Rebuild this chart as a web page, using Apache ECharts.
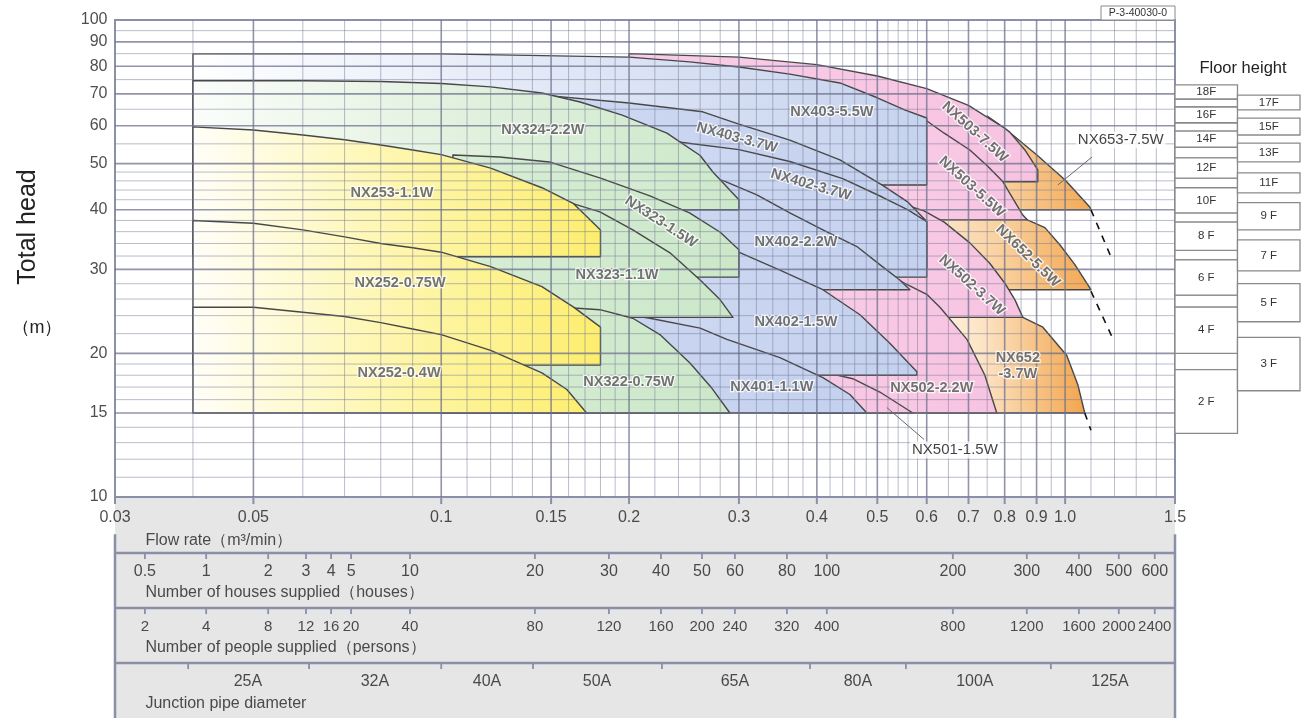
<!DOCTYPE html>
<html><head><meta charset="utf-8">
<script src="https://cdn.jsdelivr.net/npm/echarts@6/dist/echarts.min.js"></script>
<style>html,body{margin:0;padding:0;background:#fff}#chart{width:1309px;height:718px}</style>
</head><body><div id="chart"></div>
<script>
// ---------------- DATA ----------------
const flowTicks = [0.03,0.05,0.1,0.15,0.2,0.3,0.4,0.5,0.6,0.7,0.8,0.9,1.0,1.5];
const flowTickText = ['0.03','0.05','0.1','0.15','0.2','0.3','0.4','0.5','0.6','0.7','0.8','0.9','1.0','1.5'];
const headTicks = [100,90,80,70,60,50,40,30,20,15,10];
const flowGridMajor = [0.05,0.1,0.15,0.2,0.3,0.4,0.5,0.6,0.7,0.8,0.9,1.0];
const flowGridMinor = [0.04,0.06,0.07,0.08,0.09,0.11,0.12,0.13,0.14,0.16,0.17,0.18,0.19,0.22,0.24,0.26,0.28,0.32,0.34,0.36,0.38,0.42,0.44,0.46,0.48,0.52,0.54,0.56,0.58,0.65,0.75,0.85,0.95,1.1,1.2,1.3,1.4];
const headGridMajor = [90,80,70,60,50,40,30,20,15];
const headGridMinor = [95,85,75,65,55,48,46,44,42,38,36,34,32,28,26,24,22,19,18,17,16,14,13,12,11];

// supply scales (flow position of each tick)
const supplyFlows = [0.0335,0.042,0.0528,0.0607,0.0666,0.0717,0.0891,0.1413,0.1857,0.225,0.2618,0.2956,0.3581,0.415,0.6607,0.8681,1.052,1.219,1.392];
const houseLabels = ['0.5','1','2','3','4','5','10','20','30','40','50','60','80','100','200','300','400','500','600'];
const peopleLabels = ['2','4','8','12','16','20','40','80','120','160','200','240','320','400','800','1200','1600','2000','2400'];
const pipeBoundaryFlows = [0.0393,0.0614,0.1,0.1403,0.2258,0.39,0.5556,0.9487];
const pipeSizes = ['25A','32A','40A','50A','65A','80A','100A','125A'];
const pipeLabelFlows = [0.049,0.0783,0.1184,0.1777,0.2956,0.4654,0.7166,1.18];

// pump zones [flow m3/min, head m]
const NX653_75W = [[0.75,62.9],[0.8,59.3],[0.9,52.2],[1.0,46.2],[1.096,40.5],[1.1,40],[0.75,40]];
const NX652_55W = [[0.6,39],[0.85,38.6],[0.87,38.1],[0.928,36.7],[0.9806,33.8],[1.0366,30.7],[1.1,27.2],[0.6,27.2]];
const NX652_37W = [[0.6,24.5],[0.8554,23.8],[0.921,22.7],[1.006,19.8],[1.048,17.2],[1.075,15],[0.6,15]];
const NX503_75W = [[0.2,85],[0.3,83.6],[0.4,80.6],[0.5,76.3],[0.6,71.8],[0.7,66.2],[0.8,59.3],[0.815,58.2],[0.862,53.4],[0.904,48.5],[0.904,45.8],[0.2,45.8]];
const NX503_55W = [[0.5,67],[0.5942,62],[0.64,57.9],[0.7035,53.4],[0.75,49.5],[0.795,45.8],[0.8554,39],[0.87,38.1],[0.5,38.1]];
const NX502_37W = [[0.4,50],[0.5,43.5],[0.56,40.8],[0.5942,39.8],[0.64,37.7],[0.7035,34.1],[0.757,30.9],[0.8,28.1],[0.831,25.9],[0.8554,23.8],[0.4,23.8]];
const NX502_22W = [[0.35,36],[0.45,32],[0.5433,28.4],[0.6,26.6],[0.63,25],[0.696,21.4],[0.7436,18],[0.777,15],[0.35,15]];
const NX501_15W = [[0.35,20],[0.409,18.3],[0.4567,17.7],[0.5046,16.6],[0.57,15],[0.35,15]];
const NX403_55W = [[0.04,84.9],[0.1,84.9],[0.2,83.6],[0.25,81.7],[0.3,79.7],[0.362,77],[0.4355,73.8],[0.5,68.7],[0.553,64.8],[0.6,62.3],[0.6,45.1],[0.04,45.1]];
const NX403_37W = [[0.13,70.5],[0.2,67],[0.2625,64.2],[0.3,60.5],[0.362,56],[0.4355,50.9],[0.51,45],[0.56,41.5],[0.6,37.8],[0.6,30],[0.13,30]];
const NX402_37W = [[0.24,55.5],[0.3,53.5],[0.362,50.5],[0.44,46.5],[0.51,42.5],[0.56,40],[0.6,37.8],[0.6,28.9],[0.24,28.9]];
const NX402_22W = [[0.2,50],[0.26,47.5],[0.2837,46],[0.3206,43],[0.362,39.4],[0.409,36.3],[0.4637,33.5],[0.5046,30.7],[0.5433,28.5],[0.5638,27.2],[0.2,27.2]];
const NX402_15W = [[0.2,40],[0.25,36],[0.2935,33],[0.349,29.9],[0.409,27.2],[0.469,24.1],[0.5236,21],[0.5786,18.3],[0.5786,18],[0.2,18]];
const NX401_11W = [[0.1,27],[0.145,25.8],[0.1668,25.1],[0.216,23.7],[0.26,22.6],[0.287,21.4],[0.349,19.6],[0.409,17.8],[0.4519,16.4],[0.481,15],[0.1,15]];
const NX324_22W = [[0.04,74.6],[0.06,74.6],[0.08,74.3],[0.1,73.6],[0.12,72.4],[0.145,70.3],[0.167,67.3],[0.195,63.2],[0.23,57.9],[0.26,52],[0.2725,48],[0.3,42],[0.3,40],[0.04,40]];
const NX323_15W = [[0.1044,52.1],[0.124,51.6],[0.149,50.4],[0.18,46.6],[0.216,42.8],[0.25,39.4],[0.28,35.9],[0.3,33],[0.3,28.9],[0.1044,28.9]];
const NX323_11W = [[0.1,46.5],[0.145,43.6],[0.1626,41.2],[0.1796,39.6],[0.2028,36.3],[0.2326,32.5],[0.26,28.5],[0.28,25.9],[0.2935,23.8],[0.1,23.8]];
const NX322_075W = [[0.1,26.8],[0.145,25.6],[0.163,24.9],[0.1796,24.7],[0.2028,23.7],[0.2241,21.9],[0.2504,19.1],[0.2716,16.9],[0.2902,15],[0.1,15]];
const NX253_11W = [[0.04,59.7],[0.05,58.8],[0.06,57.4],[0.07,56.1],[0.08,54.7],[0.09,53.4],[0.1,52.2],[0.12,48.9],[0.145,44.5],[0.163,41.2],[0.18,36.3],[0.18,31.9],[0.04,31.9]];
const NX252_075W = [[0.04,38],[0.05,37.5],[0.06,36.3],[0.07,35.1],[0.08,34],[0.09,33.3],[0.1,32.6],[0.12,30.4],[0.145,27.6],[0.163,25],[0.18,22.7],[0.18,18.9],[0.04,18.9]];
const NX252_04W = [[0.04,25],[0.05,25],[0.06,24.4],[0.07,23.9],[0.08,23.2],[0.09,22.5],[0.1,21.9],[0.12,20.3],[0.145,18.2],[0.159,16.8],[0.171,15],[0.04,15]];

// curve extensions (dashed)
const extension1 = [[1.1,40],[1.19,31.4]];
const extension2 = [[1.1,27],[1.19,21.6]];
const extension3 = [[1.075,15],[1.1,13.8]];

// zone names [name, flow, head]
const zoneNames = [
  ['NX253-1.1W',0.0834,43.4],['NX252-0.75W',0.0859,28.1],['NX252-0.4W',0.0856,18.2],
  ['NX324-2.2W',0.1455,58.8],['NX323-1.5W',0.225,37.7],['NX323-1.1W',0.1913,29.2],['NX322-0.75W',0.1999,17.4],
  ['NX403-5.5W',0.4228,64.2],['NX403-3.7W',0.2978,56.6],['NX402-3.7W',0.3914,45.1],['NX402-2.2W',0.3702,34.2],
  ['NX402-1.5W',0.3702,23.3],['NX401-1.1W',0.3388,17.0],['NX502-2.2W',0.6114,16.9],
  ['NX503-7.5W',0.7166,58.2],['NX503-5.5W',0.7087,44.7],['NX652-5.5W',0.8714,32.0],['NX502-3.7W',0.7087,27.8],
  ['NX652\n-3.7W',0.8397,18.8]
];
const calloutNames = [['NX653-7.5W',1.228,56.1],['NX501-1.5W',0.6658,12.55]];
const calloutLeader1 = [[0.9734,45.1],[1.104,51.6]];
const calloutLeader2 = [[0.5179,15.4],[0.5942,13.2]];

// floor height boxes [label, low head, high head]
const floorsEven = [['18F',68.3,73.1],['16F',60.9,65.7],['14F',54.1,58.5],['12F',46.6,51.4],['10F',39.4,44.5],['8 F',32.9,37.7],['6 F',26.5,31.4],['4 F',20.0,25.0],['2 F',13.6,18.5]];
const floorStrips = [['',65.7,68.3],['',58.5,60.9],['',51.4,54.1],['',44.5,46.6],['',37.7,39.4],['',31.4,32.9],['',25.0,26.5],['',18.5,20.0]];
const floorsOdd = [['17F',64.8,69.6],['15F',57.4,62.3],['13F',50.4,55.2],['11F',43.4,47.8],['9 F',36.3,41.4],['7 F',29.8,34.6],['5 F',23.3,28.0],['3 F',16.7,21.6]];

// ---------------- STYLE ----------------
const FONT = "'Liberation Sans', Arial, Helvetica, sans-serif";
const labelRotation = {'NX323-1.5W':-33,'NX403-3.7W':-15,'NX402-3.7W':-16,'NX503-7.5W':-42,'NX503-5.5W':-42,'NX652-5.5W':-44,'NX502-3.7W':-42};
const ORANGE_A = [[0,'#fbd8ad'],[1,'#f3a953']];
const ORANGE_B = [[0,'#fde8cf'],[0.4,'#fbd4a5'],[1,'#f3a852']];
const ORANGE_C = [[0,'#fff3e4'],[0.35,'#fde4c6'],[1,'#f2a54c']];
const PINK = [[0,'#f9cde6'],[1,'#f7c3e1']];
const BLUE_A = [[0,'#ffffff'],[0.5,'#e0e7f6'],[1,'#c6d3ee']];
const BLUE = [[0,'#ced9f2'],[1,'#c4d1ee']];
const GREEN_A = [[0,'#fbfdfa'],[0.5,'#e1f1de'],[1,'#cce8c9']];
const GREEN = [[0,'#d8eed5'],[1,'#cbe7c8']];
const YELLOW = [[0,'#fffef8'],[0.5,'#fef6ad'],[1,'#fdee6e']];

const tiles = [
  [NX653_75W,ORANGE_A],[NX652_55W,ORANGE_B],[NX652_37W,ORANGE_C],
  [NX503_75W,PINK],[NX503_55W,PINK],[NX502_37W,PINK],[NX502_22W,PINK],[NX501_15W,PINK],
  [NX403_55W,BLUE_A],[NX403_37W,BLUE],[NX402_37W,BLUE],[NX402_22W,BLUE],[NX402_15W,BLUE],[NX401_11W,BLUE],
  [NX324_22W,GREEN_A],[NX323_15W,GREEN],[NX323_11W,GREEN],[NX322_075W,GREEN],
  [NX253_11W,YELLOW],[NX252_075W,YELLOW],[NX252_04W,YELLOW]
];

// panel rows (axis units of the lower panel)
const ROW = {flowLabel:0.36, flowTitle:0.78, houseLabel:1.34, houseTitle:1.72, peopleLabel:2.35, peopleTitle:2.72, pipeLabel:3.33, pipeTitle:3.74};
const AXIS_GRAY = '#8b8fa7';

// ---------------- HELPERS ----------------
function segSeries(segs, style, xi, yi, z) {
  return {
    type:'custom', silent:true, xAxisIndex:xi, yAxisIndex:yi, z:z,
    data: segs, encode:{x:[0,2], y:[1,3]},
    renderItem: function (params, api) {
      const a = api.coord([api.value(0), api.value(1)]);
      const b = api.coord([api.value(2), api.value(3)]);
      return {type:'line', z2: params.dataIndex, shape:{x1:a[0],y1:a[1],x2:b[0],y2:b[1]}, style: Object.assign({}, style)};
    }
  };
}
function textSeries(items, labelStyle, xi, yi, z) {
  return {
    type:'scatter', silent:true, xAxisIndex:xi, yAxisIndex:yi, z:z, symbolSize:1,
    itemStyle:{color:'rgba(0,0,0,0)'},
    data: items,
    label: Object.assign({show:true, formatter:'{b}', fontFamily:FONT}, labelStyle)
  };
}

const series = [];

// zones
series.push({
  type:'custom', silent:true, xAxisIndex:0, yAxisIndex:0, z:2,
  data: tiles.map(t => t[0][0]),
  renderItem: function (params, api) {
    const t = tiles[params.dataIndex];
    const pts = t[0].map(p => api.coord(p));
    return {
      type:'polygon', z2: params.dataIndex,
      shape:{points: pts},
      style:{
        fill: new echarts.graphic.LinearGradient(0,0,1,0, t[1].map(s => ({offset:s[0], color:s[1]}))),
        stroke:'#474747', lineWidth:1.4, lineJoin:'round'
      }
    };
  }
});

// grid lines
series.push(segSeries(flowGridMinor.map(v => [v,10,v,100]), {stroke:'rgba(118,122,150,0.5)', lineWidth:1}, 0, 0, 3));
series.push(segSeries(flowGridMajor.map(v => [v,10,v,100]), {stroke:'rgba(110,114,142,0.75)', lineWidth:1.6}, 0, 0, 3));
series.push(segSeries(headGridMinor.map(v => [0.03,v,1.5,v]), {stroke:'rgba(118,122,150,0.5)', lineWidth:1}, 0, 0, 3));
series.push(segSeries(headGridMajor.map(v => [0.03,v,1.5,v]), {stroke:'rgba(110,114,142,0.75)', lineWidth:1.6}, 0, 0, 3));

// dashed extensions
[extension1, extension2, extension3].forEach(d => {
  series.push({type:'line', silent:true, xAxisIndex:0, yAxisIndex:0, z:5, data:d, symbol:'none',
    lineStyle:{color:'#111', width:1.6, type:[7,7]}});
});
// callout leaders
[calloutLeader1, calloutLeader2].forEach(d => {
  series.push({type:'line', silent:true, xAxisIndex:0, yAxisIndex:0, z:5, data:d, symbol:'none',
    lineStyle:{color:'#6a6a6a', width:1}});
});

// zone names
series.push(textSeries(zoneNames.map(r => ({name:r[0], value:[r[1], r[2]], label:{rotate: labelRotation[r[0]] || 0}})),
  {position:'inside', fontSize:14.5, fontWeight:'bold', color:'#505050', textBorderColor:'#ffffff', textBorderWidth:2.5, lineHeight:16}, 0, 0, 8));
// callout names
series.push(textSeries(calloutNames.map(r => ({name:r[0], value:[r[1], r[2]]})),
  {position:'inside', fontSize:15, color:'#111', backgroundColor:'#ffffff', padding:[1,2]}, 0, 0, 8));

// head tick labels
series.push(textSeries(headTicks.map(v => ({name:String(v), value:[0.03, v]})),
  {position:'left', distance:7, fontSize:16, color:'#222'}, 0, 0, 8));

// ---- lower panel ----
series.push(segSeries([[0.03,1,1.5,1],[0.03,2,1.5,2],[0.03,3,1.5,3],[0.03,0.66,0.03,4],[1.5,0.66,1.5,4]],
  {stroke:AXIS_GRAY, lineWidth:2.5}, 1, 1, 4));
series.push(segSeries(flowTicks.map(v => [v,0,v,0.11]), {stroke:AXIS_GRAY, lineWidth:2}, 1, 1, 4));
series.push(segSeries(supplyFlows.map(v => [v,1,v,1.11]), {stroke:AXIS_GRAY, lineWidth:1.8}, 1, 1, 4));
series.push(segSeries(supplyFlows.map(v => [v,2,v,2.11]), {stroke:AXIS_GRAY, lineWidth:1.8}, 1, 1, 4));
series.push(segSeries(pipeBoundaryFlows.map(v => [v,3,v,3.11]), {stroke:AXIS_GRAY, lineWidth:1.8}, 1, 1, 4));

series.push(textSeries(flowTicks.map((v,i) => ({name:flowTickText[i], value:[v, ROW.flowLabel]})),
  {position:'inside', fontSize:16, color:'#222'}, 1, 1, 6));
series.push(textSeries(supplyFlows.map((v,i) => ({name:houseLabels[i], value:[v, ROW.houseLabel]})),
  {position:'inside', fontSize:16, color:'#222'}, 1, 1, 6));
series.push(textSeries(supplyFlows.map((v,i) => ({name:peopleLabels[i], value:[v, ROW.peopleLabel]})),
  {position:'inside', fontSize:15, color:'#222'}, 1, 1, 6));
series.push(textSeries(pipeLabelFlows.map((v,i) => ({name:pipeSizes[i], value:[v, ROW.pipeLabel]})),
  {position:'inside', fontSize:16, color:'#222'}, 1, 1, 6));
series.push(textSeries([
    {name:'Flow rate（m³/min）', value:[0.0335, ROW.flowTitle]},
    {name:'Number of houses supplied（houses）', value:[0.0335, ROW.houseTitle]},
    {name:'Number of people supplied（persons）', value:[0.0335, ROW.peopleTitle]},
    {name:'Junction pipe diameter', value:[0.0335, ROW.pipeTitle]}
  ], {position:'right', distance:0, fontSize:16, color:'#222'}, 1, 1, 6));

// ---- floor panel ----
const floorBoxes = [].concat(
  floorStrips.map(f => ({label:f[0], col:0, lo:f[1], hi:f[2]})),
  floorsEven.map(f => ({label:f[0], col:0, lo:f[1], hi:f[2]})),
  floorsOdd.map(f => ({label:f[0], col:1, lo:f[1], hi:f[2]}))
);
series.push({
  type:'custom', silent:true, xAxisIndex:2, yAxisIndex:2, z:4,
  data: floorBoxes.map(f => [f.col, f.lo]),
  renderItem: function (params, api) {
    const f = floorBoxes[params.dataIndex];
    const a = api.coord([f.col, f.hi]);
    const b = api.coord([f.col + 1, f.lo]);
    return {type:'group', children:[
      {type:'rect', shape:{x:a[0], y:a[1], width:b[0]-a[0], height:b[1]-a[1]}, style:{fill:'#fff', stroke:'#8a8a8a', lineWidth:1.3}},
      {type:'text', style:{text:f.label, x:(a[0]+b[0])/2, y:(a[1]+b[1])/2, align:'center', verticalAlign:'middle', fontSize:11.5, fill:'#333', fontFamily:FONT}}
    ]};
  }
});

const option = {
  animation:false,
  backgroundColor:'#ffffff',
  grid:[
    {left:115, top:20, width:1060, height:477, show:true, backgroundColor:'#ffffff', borderColor:AXIS_GRAY, borderWidth:2},
    {left:115, top:498, width:1060, height:220, show:true, backgroundColor:'#e6e6e6', borderWidth:0},
    {left:1175, top:20, width:125, height:477, show:false}
  ],
  xAxis:[
    {type:'log', gridIndex:0, min:0.03, max:1.5, logBase:10, show:false},
    {type:'log', gridIndex:1, min:0.03, max:1.5, logBase:10, show:false},
    {type:'value', gridIndex:2, min:0, max:2, show:false}
  ],
  yAxis:[
    {type:'log', gridIndex:0, min:10, max:100, logBase:10, show:false},
    {type:'value', gridIndex:1, min:0, max:4, inverse:true, show:false},
    {type:'log', gridIndex:2, min:10, max:100, logBase:10, show:false}
  ],
  graphic:[
    {type:'text', z:100, x:28, y:227, rotation:Math.PI/2, style:{text:'Total head', fontSize:25, fill:'#222', fontFamily:FONT, align:'center', verticalAlign:'middle'}},
    {type:'text', z:100, x:37, y:328, style:{text:'（m）', fontSize:18, fill:'#222', fontFamily:FONT, align:'center', verticalAlign:'middle'}},
    {type:'text', z:100, x:1243, y:68, style:{text:'Floor height', fontSize:16.5, fill:'#222', fontFamily:FONT, align:'center', verticalAlign:'middle'}},
    {type:'rect', z:100, shape:{x:1101, y:6, width:74, height:14}, style:{fill:'#fff', stroke:'#8a8a8a', lineWidth:1}},
    {type:'text', z:101, x:1138, y:13.5, style:{text:'P-3-40030-0', fontSize:10.5, fill:'#333', fontFamily:FONT, align:'center', verticalAlign:'middle'}}
  ],
  series: series
};

const chart = echarts.init(document.getElementById('chart'), null, {renderer:'canvas', width:1309, height:718});
chart.setOption(option);
</script></body></html>
